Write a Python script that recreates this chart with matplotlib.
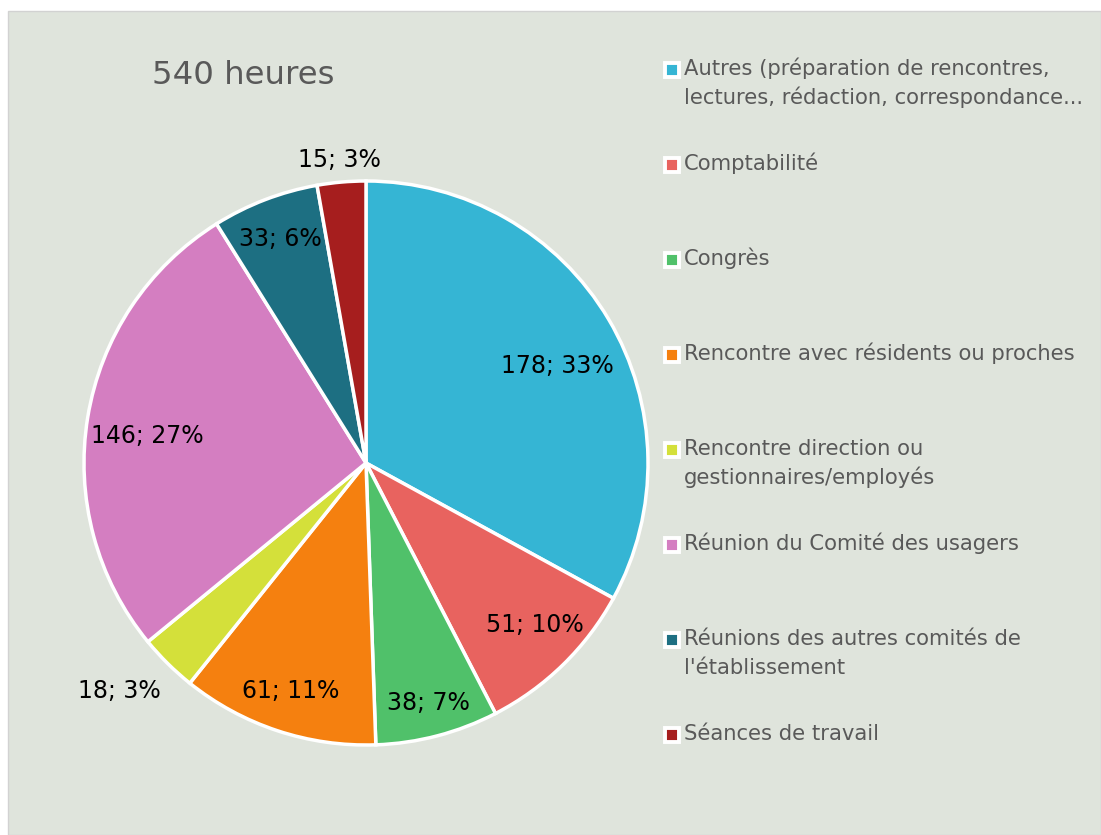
import numpy as np
import matplotlib
matplotlib.use("Agg")
import matplotlib.pyplot as plt
from matplotlib.patches import Rectangle
from matplotlib.lines import Line2D

# data
categories = [
    "Autres (préparation de rencontres,\nlectures, rédaction, correspondance...",
    "Comptabilité",
    "Congrès",
    "Rencontre avec résidents ou proches",
    "Rencontre direction ou\ngestionnaires/employés",
    "Réunion du Comité des usagers",
    "Réunions des autres comités de\nl'établissement",
    "Séances de travail",
]
hours = [178, 51, 38, 61, 18, 146, 33, 15]
percents = [33, 10, 7, 11, 3, 27, 6, 3]
title = "540 heures"

colors = ["#35b5d4", "#e8635f", "#50c16a", "#f5800f",
          "#d4e03a", "#d47ec1", "#1d6f82", "#a61e1e"]
# label placement: radial factor and small angle nudge (deg)
label_r = [0.76, 0.83, 0.88, 0.85, 1.19, 0.78, 0.85, 1.08]
label_nudge = [-3.7, 2.0, 0, 0, -2.6, 2.2, 0, 0]

W, H = 1101, 835
fig = plt.figure(figsize=(W / 100, H / 100), dpi=100)
fig.patch.set_facecolor("white")
fig.add_artist(Rectangle((8 / W, 0), 1 - 8 / W, (H - 11) / H,
                         transform=fig.transFigure, facecolor="#dfe4dc",
                         edgecolor="#d2d2d2", lw=1, zorder=-10))

ax = fig.add_axes([84 / W, 90 / H, 564 / W, 564 / H])
wedges, _ = ax.pie(hours, colors=colors, startangle=90, counterclock=False,
                   radius=1, wedgeprops=dict(edgecolor="white", linewidth=2.5))
ax.set_xlim(-1, 1)
ax.set_ylim(-1, 1)
ax.set_aspect("equal")
ax.axis("off")

for w, h, p, r, nd in zip(wedges, hours, percents, label_r, label_nudge):
    mid = np.deg2rad((w.theta1 + w.theta2) / 2 + nd)
    ax.text(r * np.cos(mid), r * np.sin(mid), f"{h}; {p}%",
            ha="center", va="center", fontsize=17, color="black")

fig.text(243 / W, 1 - 76 / H, title, ha="center", va="center",
         fontsize=23.3, color="#595959")

# legend drawn by hand to keep Excel-like spacing
for i, (lab, c) in enumerate(zip(categories, colors)):
    y = 1 - (70 + 95 * i) / H
    fig.add_artist(Line2D([671.5 / W], [y], marker="s", markersize=9.5,
                          markerfacecolor=c, markeredgecolor="white",
                          markeredgewidth=2.8, transform=fig.transFigure))
    for k, line in enumerate(lab.split("\n")):
        fig.text(684 / W, y - (5 + 29 * k) / H, line, ha="left",
                 va="baseline", fontsize=15.2, color="#595959")

fig.savefig("out.png", dpi=100)
